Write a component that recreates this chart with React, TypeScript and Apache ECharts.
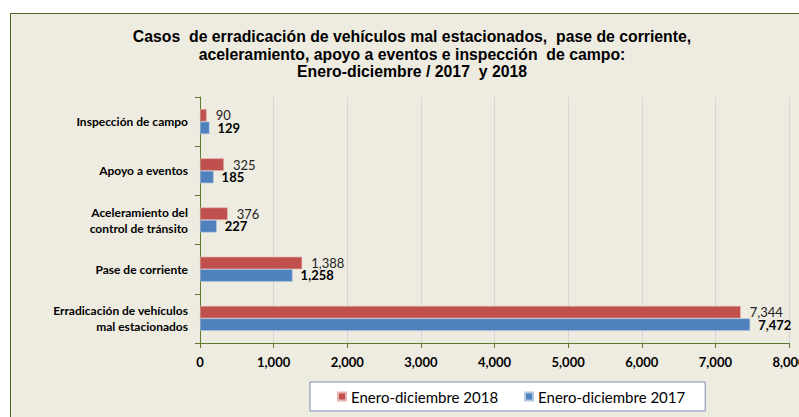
import React, { useEffect, useRef } from "react";
import * as echarts from "echarts";

const categories = [
  "Erradicación de vehículos\nmal estacionados",
  "Pase de corriente",
  "Aceleramiento del\ncontrol de tránsito",
  "Apoyo a eventos",
  "Inspección de campo",
];
const values2018 = [7344, 1388, 376, 325, 90];
const values2017 = [7472, 1258, 227, 185, 129];
const seriesNames = ["Enero-diciembre 2018", "Enero-diciembre 2017"];
const titleLines = [
  "Casos  de erradicación de vehículos mal estacionados,  pase de corriente,",
  "aceleramiento, apoyo a eventos e inspección  de campo:",
  "Enero-diciembre / 2017  y 2018",
];

const fmt = (v: number) => v.toLocaleString("en-US");
const LBL = "Lato, 'Open Sans', sans-serif";

export default function App() {
  const ref = useRef<HTMLDivElement>(null);
  useEffect(() => {
    document.body.style.margin = "0";
    document.body.style.overflow = "hidden";
    const chart = echarts.init(ref.current!, null, { renderer: "svg" });
    chart.setOption({
      animation: false,
      title: {
        text: titleLines.join("\n"),
        left: 412,
        top: 28,
        textAlign: "center",
        padding: 0,
        textStyle: {
          fontFamily: "'Liberation Sans', Arial, sans-serif",
          fontSize: 15.8,
          fontWeight: "bold",
          color: "#000",
          lineHeight: 17.5,
        },
      },
      legend: {
        left: 310,
        top: 382,
        orient: "horizontal",
        backgroundColor: "#fff",
        borderColor: "#7B8DB0",
        borderWidth: 1,
        borderRadius: 0,
        padding: [7, 20, 7, 27],
        itemWidth: 8,
        itemHeight: 8,
        itemGap: 26,
        icon: "rect",
        textStyle: { fontFamily: LBL, fontSize: 15, color: "#000" },
        data: seriesNames,
      },
      grid: { left: 200, right: 41, top: 97, bottom: 74, containLabel: false },
      xAxis: {
        type: "value",
        min: 0,
        max: 8000,
        interval: 1000,
        axisLine: { show: true, lineStyle: { color: "#5E7A2E", width: 1 } },
        axisTick: { show: true, length: 5, lineStyle: { color: "#5E7A2E" } },
        splitLine: { show: true, lineStyle: { color: "#D6D6D6", width: 1 } },
        axisLabel: {
          margin: 12,
          fontFamily: LBL,
          fontSize: 13,
          fontWeight: "bold",
          color: "#000",
          formatter: (v: number) => fmt(v),
          showMaxLabel: true,
        },
      },
      yAxis: {
        type: "category",
        data: categories,
        axisLine: { show: true, lineStyle: { color: "#5E7A2E", width: 1 } },
        axisTick: { show: true, length: 5, lineStyle: { color: "#5E7A2E" } },
        axisLabel: {
          margin: 12,
          fontFamily: LBL,
          fontSize: 12,
          fontWeight: "bold",
          color: "#000",
          lineHeight: 16,
          align: "right",
        },
      },
      series: [
        {
          name: seriesNames[0],
          type: "bar",
          data: values2018,
          barWidth: 12.5,
          barGap: "0%",
          itemStyle: { color: "#C0504D", borderColor: "#E6B3B2", borderWidth: 0.6 },
          label: {
            show: true,
            position: "right",
            distance: 9,
            fontFamily: LBL,
            fontSize: 13,
            color: "#222",
            formatter: (p: any) => fmt(p.value),
          },
        },
        {
          name: seriesNames[1],
          type: "bar",
          data: values2017,
          barWidth: 12.5,
          barGap: "0%",
          itemStyle: { color: "#4F81BD", borderColor: "#B3C8E3", borderWidth: 0.6 },
          label: {
            show: true,
            position: "right",
            distance: 8,
            fontFamily: LBL,
            fontSize: 13,
            fontWeight: "bold",
            color: "#000",
            formatter: (p: any) => fmt(p.value),
          },
        },
      ],
    });
    return () => chart.dispose();
  }, []);
  return (
    <div style={{ position: "relative", width: 799, height: 417, overflow: "hidden", background: "#fff" }}>
      <div
        style={{
          position: "absolute",
          left: 10,
          top: 13,
          width: 840,
          height: 440,
          background: "#EEECE1",
          border: "1.5px solid #4F6228",
        }}
      />
      <div ref={ref} style={{ position: "absolute", left: 0, top: 0, width: 830, height: 417 }} />
    </div>
  );
}
